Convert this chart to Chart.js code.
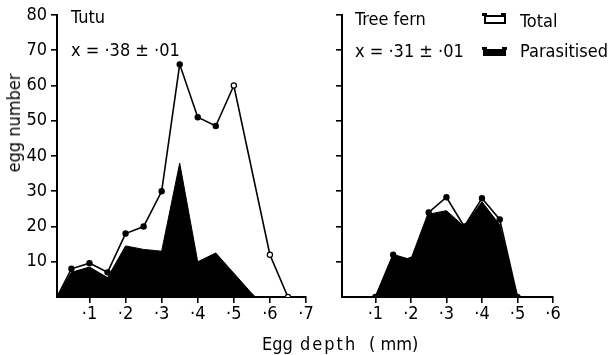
<!DOCTYPE html>
<html>
<head>
<meta charset="utf-8">
<script src="https://cdn.jsdelivr.net/npm/chart.js@4.4.1/dist/chart.umd.min.js"></script>
<style>
  html, body { margin:0; padding:0; background:#fff; }
  body { width:608px; height:355px; position:relative; overflow:hidden;
         font-family:"DejaVu Sans Condensed","DejaVu Sans",sans-serif; font-stretch:condensed; color:#000; }
  .t { position:absolute; font-size:18px; line-height:18px; white-space:pre; }
  #c1 { position:absolute; left:0; top:0; }
  #c2 { position:absolute; left:300px; top:0; }
  .icon { position:absolute; }
</style>
</head>
<body>
<canvas id="c1" width="320" height="355"></canvas>
<canvas id="c2" width="308" height="355"></canvas>

<div class="t" style="left:71px; top:8px;">Tutu</div>
<div class="t" style="left:71px; top:41px;">x = ·38 ± ·01</div>
<div class="t" style="left:355px; top:10px;">Tree fern</div>
<div class="t" style="left:355px; top:42px;">x = ·31 ± ·01</div>
<div class="t" style="left:520px; top:12px;">Total</div>
<div class="t" style="left:520px; top:42px;">Parasitised</div>
<div class="t" style="left:14px; top:123px; transform:translate(-50%,-50%) rotate(-90deg);">egg number</div>
<div class="t" style="left:262px; top:335px;">Egg</div>
<div class="t" style="left:300px; top:335px; letter-spacing:2px;">depth</div>
<div class="t" style="left:369px; top:335px;">( mm)</div>

<!-- legend icons -->
<div class="icon" style="left:484px; top:15px; width:18px; height:5px; border:2px solid #000;"></div>
<div class="icon" style="left:482px; top:13px; width:5px; height:3px; background:#000;"></div>
<div class="icon" style="left:501px; top:13px; width:5px; height:3px; background:#000;"></div>
<div class="icon" style="left:483px; top:49px; width:23px; height:7px; background:#000;"></div>
<div class="icon" style="left:482px; top:47px; width:5px; height:3px; background:#000;"></div>
<div class="icon" style="left:502px; top:47px; width:5px; height:3px; background:#000;"></div>

<script>
// ---- data ----
const yTicks = [10, 20, 30, 40, 50, 60, 70, 80];
const tutuXTicks = [0.1, 0.2, 0.3, 0.4, 0.5, 0.6, 0.7];
const fernXTicks = [0.1, 0.2, 0.3, 0.4, 0.5, 0.6];

const tutuTotalDepth = [0.01, 0.05, 0.1, 0.15, 0.2, 0.25, 0.3, 0.35, 0.4, 0.45, 0.5, 0.6, 0.65];
const tutuTotal      = [0, 8, 9.6, 7, 18, 20, 30, 66, 51, 48.5, 60, 12, 0];
const tutuParDepth   = [0.01, 0.05, 0.1, 0.15, 0.2, 0.25, 0.3, 0.35, 0.4, 0.45, 0.55, 0.56];
const tutuParasitised= [0, 7, 8.5, 5.5, 14.5, 13.5, 13, 38, 10, 12.5, 1, 0];

const fernDepth       = [0.1, 0.15, 0.2, 0.25, 0.3, 0.35, 0.4, 0.45, 0.5];
const fernTotal       = [0, 12, 10.5, 24, 28.3, 20, 28, 22, 0];
const fernParasitised = [0, 12, 10.5, 23.5, 24.5, 20, 27, 20.5, 0];

const FONT = { family: '"DejaVu Sans Condensed","DejaVu Sans",sans-serif', size: 18 };
const pts = (xs, ys) => xs.map((x, i) => ({ x: x, y: ys[i] }));
const fmtX = v => '·' + Math.round(v * 10);

function makeChart(id, totalPts, parPts, xMin, xMax, xTicks, showYLabels, yWidth, padRight, openFrom) {
  return new Chart(document.getElementById(id), {
    type: 'line',
    data: {
      datasets: [
        {
          label: 'Total', data: totalPts, borderColor: '#000', borderWidth: 1.6,
          fill: false, tension: 0, pointRadius: 2.6, pointBorderWidth: 1.2,
          pointBorderColor: '#000',
          pointBackgroundColor: ctx => (ctx.raw && ctx.raw.x >= openFrom) ? '#fff' : '#000'
        },
        {
          label: 'Parasitised', data: parPts, borderColor: '#000', borderWidth: 1,
          backgroundColor: '#000', fill: 'origin', tension: 0, pointRadius: 0
        }
      ]
    },
    options: {
      responsive: false, animation: false, events: [],
      layout: { padding: { left: 0, top: 15, right: padRight, bottom: 0 } },
      plugins: { legend: { display: false }, tooltip: { enabled: false } },
      scales: {
        x: {
          type: 'linear', min: xMin, max: xMax,
          afterBuildTicks: s => { s.ticks = xTicks.map(v => ({ value: v })); },
          afterFit: s => { s.height = 58; },
          grid: { display: true, drawOnChartArea: false, drawTicks: true, tickLength: 6, color: '#000', lineWidth: 1.6 },
          border: { display: true, color: '#000', width: 2 },
          ticks: { color: '#000', font: FONT, padding: 1, maxRotation: 0, autoSkip: false, callback: fmtX }
        },
        y: {
          min: 0, max: 80,
          afterBuildTicks: s => { s.ticks = yTicks.map(v => ({ value: v })); },
          afterFit: s => { s.width = yWidth; },
          grid: { display: true, drawOnChartArea: false, drawTicks: true, tickLength: 6, color: '#000', lineWidth: 1.6 },
          border: { display: true, color: '#000', width: 2 },
          ticks: { color: '#000', font: FONT, padding: 4, autoSkip: false,
                   callback: v => showYLabels ? String(v) : '' }
        }
      }
    }
  });
}

makeChart('c1', pts(tutuTotalDepth, tutuTotal), pts(tutuParDepth, tutuParasitised),
          0.01, 0.7, tutuXTicks, true, 57, 14, 0.5);
makeChart('c2', pts(fernDepth, fernTotal), pts(fernDepth, fernParasitised),
          0.006, 0.6, fernXTicks, false, 42, 55, 9);
</script>
</body>
</html>
